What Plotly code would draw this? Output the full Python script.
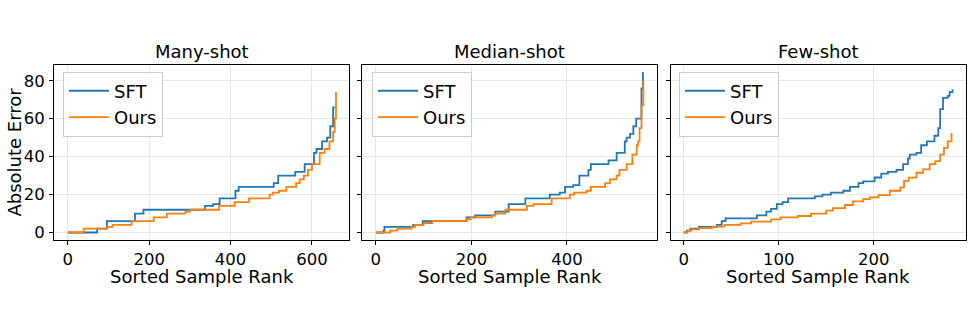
import plotly.graph_objects as go

# ---------------- data ----------------
panel_titles = ["Many-shot", "Median-shot", "Few-shot"]
series_names = ["SFT", "Ours"]

# Many-shot
many_sft_rank = [0, 72, 96, 165, 186, 337, 357, 373, 412, 420, 506, 517, 559, 582, 605, 611, 625, 637, 645, 652, 656]
many_sft_err = [0, 2, 6, 10, 12, 14, 15, 18, 22, 24, 26, 30, 32, 36, 42, 44, 48, 50, 56, 66, 66]
many_ours_rank = [0, 39, 97, 110, 157, 211, 243, 289, 300, 372, 410, 445, 496, 504, 519, 537, 561, 570, 580, 590, 600, 619, 631, 643, 652, 656, 659]
many_ours_err = [0, 2, 3, 4, 6, 8, 10, 11, 12, 14, 16, 18, 20, 21, 22, 24, 26, 28, 30, 33, 36, 42, 44, 48, 53, 60, 74]

# Median-shot
med_sft_rank = [0, 16, 18, 78, 98, 190, 208, 250, 278, 313, 364, 385, 396, 413, 426, 445, 450, 487, 504, 521, 525, 532, 539, 545, 556, 559, 561]
med_sft_err = [0, 1, 3, 4, 6, 8, 9, 11, 15, 18, 20, 21, 24, 25, 30, 33, 36, 38, 42, 48, 50, 52, 56, 60, 76, 84, 84]
med_ours_rank = [0, 30, 45, 75, 82, 100, 118, 190, 198, 243, 250, 271, 316, 330, 368, 406, 415, 441, 450, 480, 490, 504, 510, 525, 537, 546, 549, 552, 556, 560]
med_ours_err = [0, 1, 2, 3, 4, 5, 6, 7, 8, 9, 10, 12, 14, 15, 18, 20, 21, 22, 24, 26, 28, 30, 33, 36, 41, 46, 48, 55, 67, 80]

# Few-shot
few_sft_rank = [0, 3, 7, 16, 35, 40, 44, 77, 87, 92, 98, 104, 110, 138, 146, 155, 168, 175, 184, 189, 201, 208, 215, 224, 231, 236, 238, 245, 250, 256, 264, 268, 270, 273, 278, 280, 283]
few_sft_err = [0, 1, 2, 3, 4, 6, 7.5, 9, 11, 12.5, 15, 16, 18, 19, 20, 21, 22, 24, 26, 27, 29, 31, 32, 33, 36, 39, 41, 42, 46, 48, 51, 55, 65, 71, 72, 74, 75.5]
few_ours_rank = [0, 4, 8, 16, 30, 43, 60, 71, 92, 102, 120, 134, 150, 157, 170, 178, 189, 196, 205, 217, 228, 232, 237, 245, 252, 259, 265, 270, 274, 278, 282]
few_ours_err = [0, 1, 1.7, 2.3, 3.1, 4, 4.8, 5.7, 6.9, 8, 8.7, 10, 11.5, 12.9, 14.5, 16.4, 17.6, 18.5, 19.7, 22, 23.8, 27.2, 28.9, 31.5, 33.3, 36, 37.6, 41, 44.6, 48, 52.4]

y_ticks = [0, 20, 40, 60, 80]
x_ticks = [[0, 200, 400, 600], [0, 200, 400], [0, 100, 200]]
x_ranges = [[-34, 691], [-29, 588.5], [-13.4, 297.2]]
y_range = [-4.2, 88.5]

x_title = "Sorted Sample Rank"
y_title = "Absolute Error"

# ---------------- layout constants ----------------
W, H = 972, 318
colors = ["#1f77b4", "#ff7f0e"]
font_family = "DejaVu Sans, Arial, sans-serif"
x_domains = [[54 / W, 349 / W], [362 / W, 657 / W], [671 / W, 966 / W]]
y_domain = [1 - 242 / H, 1 - 65 / H]
legend_x = [63 / W, 372 / W, 679 / W]

panels = [
    [(many_sft_rank, many_sft_err), (many_ours_rank, many_ours_err)],
    [(med_sft_rank, med_sft_err), (med_ours_rank, med_ours_err)],
    [(few_sft_rank, few_sft_err), (few_ours_rank, few_ours_err)],
]

fig = go.Figure()
for p, series in enumerate(panels):
    xa = "x" if p == 0 else f"x{p + 1}"
    ya = "y" if p == 0 else f"y{p + 1}"
    lg = "legend" if p == 0 else f"legend{p + 1}"
    for s, (xs, ys) in enumerate(series):
        fig.add_trace(go.Scatter(
            x=xs, y=ys, mode="lines", name=series_names[s],
            line=dict(color=colors[s], width=1.8, shape="hv"),
            xaxis=xa, yaxis=ya, legend=lg, showlegend=True,
        ))

axis_common = dict(
    showline=True, linecolor="black", linewidth=1, mirror=True,
    showgrid=True, gridcolor="#e6e6e6", gridwidth=1,
    ticks="outside", ticklen=4, tickwidth=1, tickcolor="black",
    zeroline=False, tickfont=dict(size=16.5, color="black", family=font_family),
)

layout = dict(
    width=W, height=H, margin=dict(l=0, r=0, t=0, b=0),
    plot_bgcolor="white", paper_bgcolor="white",
    font=dict(family=font_family, color="black"),
)
annotations = []
for p in range(3):
    xk = "xaxis" if p == 0 else f"xaxis{p + 1}"
    yk = "yaxis" if p == 0 else f"yaxis{p + 1}"
    ya = "y" if p == 0 else f"y{p + 1}"
    xa = "x" if p == 0 else f"x{p + 1}"
    layout[xk] = dict(axis_common, domain=x_domains[p], range=x_ranges[p],
                      tickvals=x_ticks[p], anchor=ya, ticklabelstandoff=0)
    layout[yk] = dict(axis_common, domain=y_domain, range=y_range,
                      tickvals=y_ticks, anchor=xa, showticklabels=(p == 0),
                      ticklabelstandoff=1)
    lk = "legend" if p == 0 else f"legend{p + 1}"
    layout[lk] = dict(
        x=legend_x[p], y=1 - 72 / H, xanchor="left", yanchor="top",
        bgcolor="rgba(255,255,255,0.8)", bordercolor="#cccccc", borderwidth=1,
        font=dict(size=18, color="black", family=font_family),
        itemwidth=40, tracegroupgap=0,
    )
    cx = (x_domains[p][0] + x_domains[p][1]) / 2
    annotations.append(dict(text=panel_titles[p], x=cx, y=1 - 52 / H, xref="paper", yref="paper",
                            xanchor="center", yanchor="middle", showarrow=False,
                            font=dict(size=18, color="black", family=font_family)))
    annotations.append(dict(text=x_title, x=cx, y=1 - 278 / H, xref="paper", yref="paper",
                            xanchor="center", yanchor="middle", showarrow=False, borderpad=0,
                            font=dict(size=18, color="black", family=font_family)))
annotations.append(dict(text=y_title, x=15 / W, y=(y_domain[0] + y_domain[1]) / 2,
                        xref="paper", yref="paper", xanchor="center", yanchor="middle",
                        textangle=-90, showarrow=False,
                        font=dict(size=18, color="black", family=font_family)))
layout["annotations"] = annotations
fig.update_layout(**layout)

fig.write_html("out.html")
